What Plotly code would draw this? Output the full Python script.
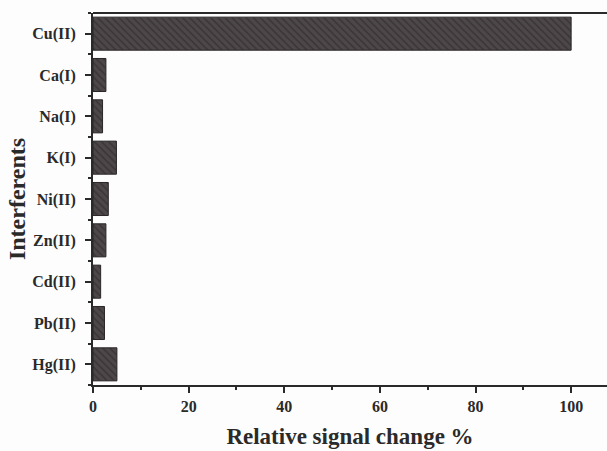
import plotly.graph_objects as go

# Interferent ions and their relative signal change (%)
interferents = ["Cu(II)", "Ca(I)", "Na(I)", "K(I)", "Ni(II)", "Zn(II)", "Cd(II)", "Pb(II)", "Hg(II)"]
signal_change = [100, 2.7, 2.0, 4.9, 3.2, 2.7, 1.6, 2.4, 5.0]

x_ticks = [0, 20, 40, 60, 80, 100]

FONT = "Liberation Serif"
INK = "#2a2a2a"

fig = go.Figure(
    go.Bar(
        x=signal_change,
        y=interferents,
        orientation="h",
        width=0.8,
        marker=dict(
            color="#4a4547",
            line=dict(color="#2a2627", width=1),
            pattern=dict(shape="\\", fgcolor="#262223", bgcolor="#4d4749",
                         size=5, solidity=0.3),
        ),
    )
)

fig.update_layout(
    width=607,
    height=451,
    margin=dict(l=93, r=0, t=13, b=66, autoexpand=False),
    paper_bgcolor="#fdfdfd",
    plot_bgcolor="#fdfdfd",
    showlegend=False,
    font=dict(family=FONT, color=INK),
    bargap=0.2,
)

# top frame line across the plot area
fig.add_shape(type="line", xref="paper", yref="paper", x0=0, x1=1, y0=1, y1=1,
              line=dict(color=INK, width=2))

fig.update_xaxes(
    range=[0, 107.5],
    tickvals=x_ticks,
    ticktext=[str(v) for v in x_ticks],
    ticks="outside",
    ticklen=6,
    tickwidth=2,
    tickcolor=INK,
    minor=dict(tickvals=[10, 30, 50, 70, 90], ticks="outside", ticklen=3,
               tickwidth=2, tickcolor=INK),
    showline=True,
    linecolor=INK,
    linewidth=2,
    mirror=False,
    showgrid=False,
    zeroline=False,
    automargin=False,
    tickfont=dict(family=FONT, size=16, color=INK, weight="bold"),
    title=dict(text="<b>Relative signal change %</b>",
               font=dict(family=FONT, size=23, color=INK), standoff=14),
)

fig.update_yaxes(
    categoryorder="array",
    categoryarray=interferents[::-1],
    range=[-0.5, 8.5],
    ticks="outside",
    ticklen=6,
    tickwidth=2,
    tickcolor=INK,
    minor=dict(tickvals=[i + 0.5 for i in range(-1, 9)], ticks="outside",
               ticklen=3, tickwidth=2, tickcolor=INK),
    showline=True,
    linecolor=INK,
    linewidth=2,
    mirror=False,
    showgrid=False,
    zeroline=False,
    automargin=False,
    ticklabelstandoff=6,
    tickfont=dict(family=FONT, size=16, color=INK, weight="bold"),
    title=dict(text="<b>Interferents</b>",
               font=dict(family=FONT, size=24, color=INK), standoff=0),
)

# keep the page from growing scrollbars around the fixed-size figure
fig.write_html(
    "out.html",
    post_script="document.documentElement.style.overflow='hidden';"
                "document.body.style.margin='0';document.body.style.overflow='hidden';",
)
